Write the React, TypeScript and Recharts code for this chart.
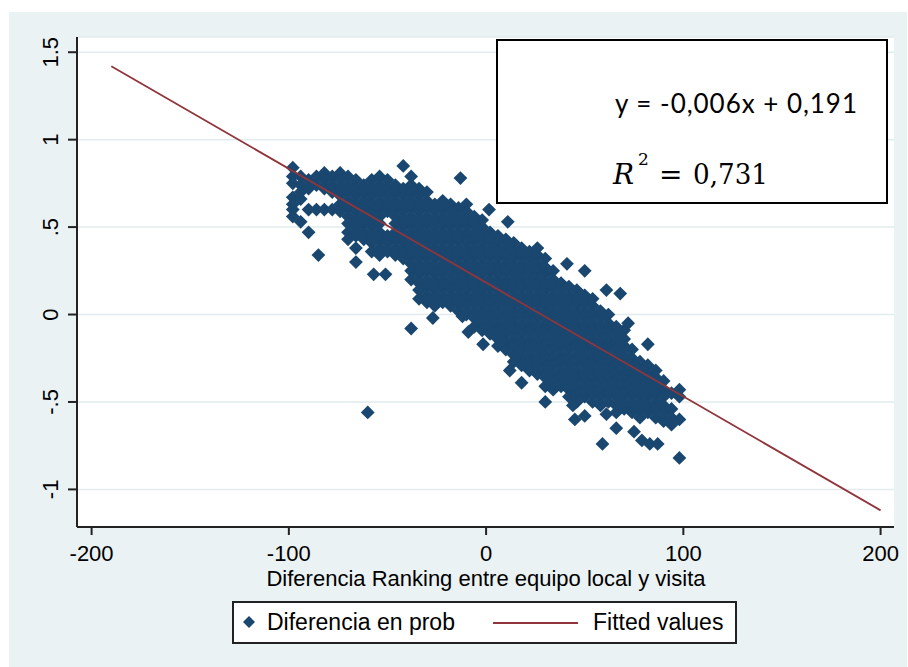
import { ScatterChart, Scatter, XAxis, YAxis, CartesianGrid } from 'recharts';

// columns of the dense cloud: x value and the y values stacked at that x
const colX = [
  -98, -94, -90, -86, -82, -78, -74, -70, -66, -62, -58, -54, -50, -46, -42, -38, -34, -30, -26, -22,
  -18, -14, -10, -6, -2, 2, 6, 10, 14, 18, 22, 26, 30, 34, 38, 42, 46, 50, 54, 58,
  62, 66, 70, 74, 78, 82, 86, 90, 94, 98,
];
const colY: number[][] = [
  [0.84, 0.79, 0.75, 0.67, 0.63, 0.6, 0.56],
  [0.79, 0.74, 0.7, 0.66, 0.53],
  [0.77, 0.72, 0.6, 0.47],
  [0.79, 0.74, 0.6],
  [0.81, 0.77, 0.72, 0.6],
  [0.79, 0.74, 0.7, 0.6],
  [0.81, 0.77, 0.72, 0.68, 0.63, 0.59],
  [0.79, 0.74, 0.7, 0.65, 0.61, 0.56, 0.52, 0.47, 0.43],
  [0.77, 0.72, 0.68, 0.63, 0.59, 0.54, 0.5, 0.45, 0.38, 0.3],
  [0.74, 0.7, 0.65, 0.61, 0.56, 0.52, 0.47, 0.43],
  [0.77, 0.72, 0.68, 0.63, 0.59, 0.54, 0.5, 0.45, 0.41, 0.36],
  [0.79, 0.74, 0.7, 0.65, 0.61, 0.56, 0.52, 0.47, 0.43, 0.38, 0.34],
  [0.77, 0.72, 0.68, 0.63, 0.59, 0.45, 0.41, 0.36],
  [0.74, 0.7, 0.65, 0.61, 0.56, 0.52, 0.47, 0.43, 0.38, 0.34],
  [0.72, 0.68, 0.63, 0.59, 0.54, 0.5, 0.45, 0.41, 0.36, 0.32],
  [0.79, 0.74, 0.7, 0.65, 0.61, 0.56, 0.52, 0.47, 0.43, 0.38, 0.34, 0.29, 0.25, 0.2],
  [0.72, 0.68, 0.63, 0.59, 0.54, 0.5, 0.45, 0.41, 0.36, 0.32, 0.27, 0.23, 0.18, 0.14, 0.09],
  [0.7, 0.65, 0.61, 0.56, 0.52, 0.47, 0.43, 0.38, 0.34, 0.29, 0.25, 0.2, 0.16, 0.11, 0.07],
  [0.63, 0.59, 0.54, 0.5, 0.45, 0.41, 0.36, 0.32, 0.27, 0.23, 0.18, 0.14, 0.09, 0.05],
  [0.65, 0.61, 0.56, 0.52, 0.47, 0.43, 0.38, 0.34, 0.29, 0.25, 0.2, 0.16, 0.11, 0.07],
  [0.63, 0.59, 0.54, 0.5, 0.45, 0.41, 0.36, 0.32, 0.27, 0.23, 0.18, 0.14, 0.09, 0.05],
  [0.61, 0.56, 0.52, 0.47, 0.43, 0.38, 0.34, 0.29, 0.25, 0.2, 0.16, 0.11, 0.07, 0.02],
  [0.63, 0.59, 0.54, 0.5, 0.45, 0.41, 0.36, 0.32, 0.27, 0.23, 0.18, 0.14, 0.09, 0.05, 0],
  [0.56, 0.52, 0.47, 0.43, 0.38, 0.34, 0.29, 0.25, 0.2, 0.16, 0.11, 0.07, 0.02, -0.02, -0.07],
  [0.54, 0.5, 0.45, 0.41, 0.36, 0.32, 0.27, 0.23, 0.18, 0.14, 0.09, 0.05, 0, -0.05, -0.09],
  [0.47, 0.43, 0.38, 0.34, 0.29, 0.25, 0.2, 0.16, 0.11, 0.07, 0.02, -0.02, -0.07, -0.11],
  [0.45, 0.41, 0.36, 0.32, 0.27, 0.23, 0.18, 0.14, 0.09, 0.05, 0, -0.05, -0.09, -0.14, -0.18],
  [0.43, 0.38, 0.34, 0.29, 0.25, 0.2, 0.16, 0.11, 0.07, 0.02, -0.02, -0.07, -0.11, -0.16, -0.2],
  [0.41, 0.36, 0.32, 0.27, 0.23, 0.18, 0.14, 0.09, 0.05, 0, -0.05, -0.09, -0.14, -0.18, -0.23, -0.27],
  [0.38, 0.34, 0.29, 0.25, 0.2, 0.16, 0.11, 0.07, 0.02, -0.02, -0.07, -0.11, -0.16, -0.2, -0.25, -0.29],
  [0.36, 0.32, 0.27, 0.23, 0.18, 0.14, 0.09, 0.05, 0, -0.05, -0.09, -0.14, -0.18, -0.23, -0.27, -0.32],
  [0.38, 0.34, 0.29, 0.25, 0.2, 0.16, 0.11, 0.07, 0.02, -0.02, -0.07, -0.11, -0.16, -0.2, -0.25, -0.29, -0.34],
  [0.32, 0.27, 0.23, 0.18, 0.14, 0.09, 0.05, 0, -0.05, -0.09, -0.14, -0.18, -0.23, -0.27, -0.32, -0.36, -0.41],
  [0.25, 0.2, 0.16, 0.11, 0.07, 0.02, -0.02, -0.07, -0.11, -0.16, -0.2, -0.25, -0.29, -0.34, -0.38, -0.43],
  [0.18, 0.14, 0.09, 0.05, 0, -0.05, -0.09, -0.14, -0.18, -0.23, -0.27, -0.32, -0.36, -0.41],
  [0.16, 0.11, 0.07, 0.02, -0.02, -0.07, -0.11, -0.16, -0.2, -0.25, -0.29, -0.34, -0.38, -0.43, -0.47],
  [0.14, 0.09, 0.05, 0, -0.05, -0.09, -0.14, -0.18, -0.23, -0.27, -0.32, -0.36, -0.41, -0.45, -0.5],
  [0.11, 0.07, 0.02, -0.02, -0.07, -0.11, -0.16, -0.2, -0.25, -0.29, -0.34, -0.38, -0.43, -0.47],
  [0.09, 0.05, 0, -0.05, -0.09, -0.14, -0.18, -0.23, -0.27, -0.32, -0.36, -0.41, -0.45, -0.5],
  [0.02, -0.02, -0.07, -0.11, -0.16, -0.2, -0.25, -0.29, -0.34, -0.38, -0.43, -0.47, -0.52],
  [0, -0.05, -0.09, -0.14, -0.18, -0.23, -0.27, -0.32, -0.36, -0.41, -0.45, -0.5],
  [-0.07, -0.11, -0.16, -0.2, -0.25, -0.29, -0.34, -0.38, -0.43, -0.47, -0.52, -0.56],
  [-0.09, -0.14, -0.18, -0.23, -0.27, -0.32, -0.36, -0.41, -0.45, -0.5, -0.54],
  [-0.2, -0.25, -0.29, -0.34, -0.38, -0.43, -0.47, -0.52, -0.56],
  [-0.27, -0.32, -0.36, -0.41, -0.45, -0.5, -0.54, -0.59],
  [-0.29, -0.34, -0.38, -0.43, -0.47, -0.52, -0.56],
  [-0.32, -0.36, -0.41, -0.45, -0.5, -0.54, -0.59],
  [-0.38, -0.43, -0.47, -0.52, -0.56, -0.61],
  [-0.45, -0.54, -0.59, -0.63],
  [-0.43, -0.47, -0.6],
];

// isolated points around the cloud
const outX = [-85, -57, -51, -42, -38, -27, -13, -12, -9, -1.5, 1.5, 11, 12, 18, 30, 41, 44, 45, 50, 50, 61, 59, 61, 68, 66, 72, 75, 79, 82, 83, 87, 98, -60];
const outY = [0.34, 0.23, 0.23, 0.85, -0.08, -0.02, 0.78, -0.01, -0.1, -0.17, 0.6, 0.53, -0.32, -0.39, -0.5, 0.29, -0.52, -0.6, 0.25, -0.58, 0.14, -0.74, -0.57, 0.12, -0.65, -0.05, -0.67, -0.72, -0.17, -0.74, -0.74, -0.82, -0.56];

// fitted values line ends
const fitX = [-190, 200];
const fitY = [1.42, -1.12];

const xTicks = [-200, -100, 0, 100, 200];
const yTicks = [-1, -0.5, 0, 0.5, 1, 1.5];

const NAVY = '#1a476f';
const MAROON = '#90353b';
const FONT = "'Liberation Sans', Arial, sans-serif";

const points = [
  ...colX.flatMap((x, i) => colY[i].map((y) => ({ x, y }))),
  ...outX.map((x, i) => ({ x, y: outY[i] })),
];
const fitted = fitX.map((x, i) => ({ x, y: fitY[i] }));

const fmtY = (v: number) => {
  if (v === 0) return '0';
  const s = String(v);
  return s.replace(/^0\./, '.').replace(/^-0\./, '-.');
};

const Diamond = (props: any) => {
  const { cx, cy } = props;
  const r = 6.9;
  return <path d={`M${cx},${cy - r}L${cx + r},${cy}L${cx},${cy + r}L${cx - r},${cy}Z`} fill={NAVY} />;
};

const YTick = (props: any) => {
  const { x, y, payload } = props;
  return (
    <text x={x} y={y} transform={`rotate(-90, ${x}, ${y})`} textAnchor="middle" fontSize={22} fontFamily={FONT} fill="#000">
      {fmtY(payload.value)}
    </text>
  );
};

export default function App() {
  return (
    <div style={{ position: 'absolute', left: 0, top: 0, width: 908, height: 667, background: '#fff' }}>
      <div style={{ position: 'absolute', left: 9, top: 12, width: 898, height: 655, background: '#eaf2f3' }} />
      <div style={{ position: 'absolute', left: 0, top: 0 }}>
        <ScatterChart width={908} height={667} margin={{ top: 37, right: 14, bottom: 0, left: 0 }}>
          <CartesianGrid vertical={false} fill="#ffffff" fillOpacity={1} stroke="#e2ebee" strokeWidth={1.5} />
          <XAxis
            type="number"
            dataKey="x"
            domain={[-207.4, 206.8]}
            ticks={xTicks}
            allowDataOverflow
            height={140}
            tickSize={8}
            tickMargin={10}
            axisLine={{ stroke: '#222', strokeWidth: 2 }}
            tickLine={{ stroke: '#222', strokeWidth: 2 }}
            tick={{ fontSize: 22, fill: '#000', fontFamily: FONT }}
          />
          <YAxis
            type="number"
            dataKey="y"
            domain={[-1.215, 1.587]}
            ticks={yTicks}
            allowDataOverflow
            width={77}
            tickSize={9}
            tickMargin={10}
            axisLine={{ stroke: '#222', strokeWidth: 2 }}
            tickLine={{ stroke: '#222', strokeWidth: 2 }}
            tick={<YTick />}
          />
          <Scatter data={points} shape={<Diamond />} isAnimationActive={false} />
          <Scatter
            data={fitted}
            line={{ stroke: MAROON, strokeWidth: 1.8 }}
            shape={() => <g />}
            isAnimationActive={false}
          />
        </ScatterChart>
      </div>
      <svg width={908} height={667} style={{ position: 'absolute', left: 0, top: 0, pointerEvents: 'none' }}>
        <text x={486} y={586} textAnchor="middle" fontSize={22} fontFamily={FONT} fill="#000">
          Diferencia Ranking entre equipo local y visita
        </text>

        <rect x={497} y={40} width={390} height={163} fill="#fff" stroke="#000" strokeWidth={2} />
        <text x={615} y={113} fontSize={26} fontFamily="Lato, sans-serif" fill="#000" textLength={242} lengthAdjust="spacing">
          y = -0,006x + 0,191
        </text>
        <text x={613} y={184} fontSize={28} fontFamily="'DejaVu Serif', serif" fontStyle="italic" fill="#000">R</text>
        <text x={638} y={165} fontSize={17} fontFamily="'DejaVu Serif', serif" fill="#000">2</text>
        <text x={659} y={184} fontSize={28} fontFamily="'DejaVu Serif', serif" fill="#000">=</text>
        <text x={693} y={184} fontSize={28} fontFamily="'DejaVu Serif', serif" fill="#000" textLength={75} lengthAdjust="spacingAndGlyphs">
          0,731
        </text>

        <rect x={233} y={602} width={503} height={41} fill="#fff" stroke="#222" strokeWidth={2} />
        <path d="M249,616L255,622L249,628L243,622Z" fill={NAVY} />
        <text x={267} y={630} fontSize={23} fontFamily={FONT} fill="#000">Diferencia en prob</text>
        <line x1={493} y1={623} x2={578} y2={623} stroke={MAROON} strokeWidth={2} />
        <text x={593} y={630} fontSize={23} fontFamily={FONT} fill="#000">Fitted values</text>
      </svg>
    </div>
  );
}
